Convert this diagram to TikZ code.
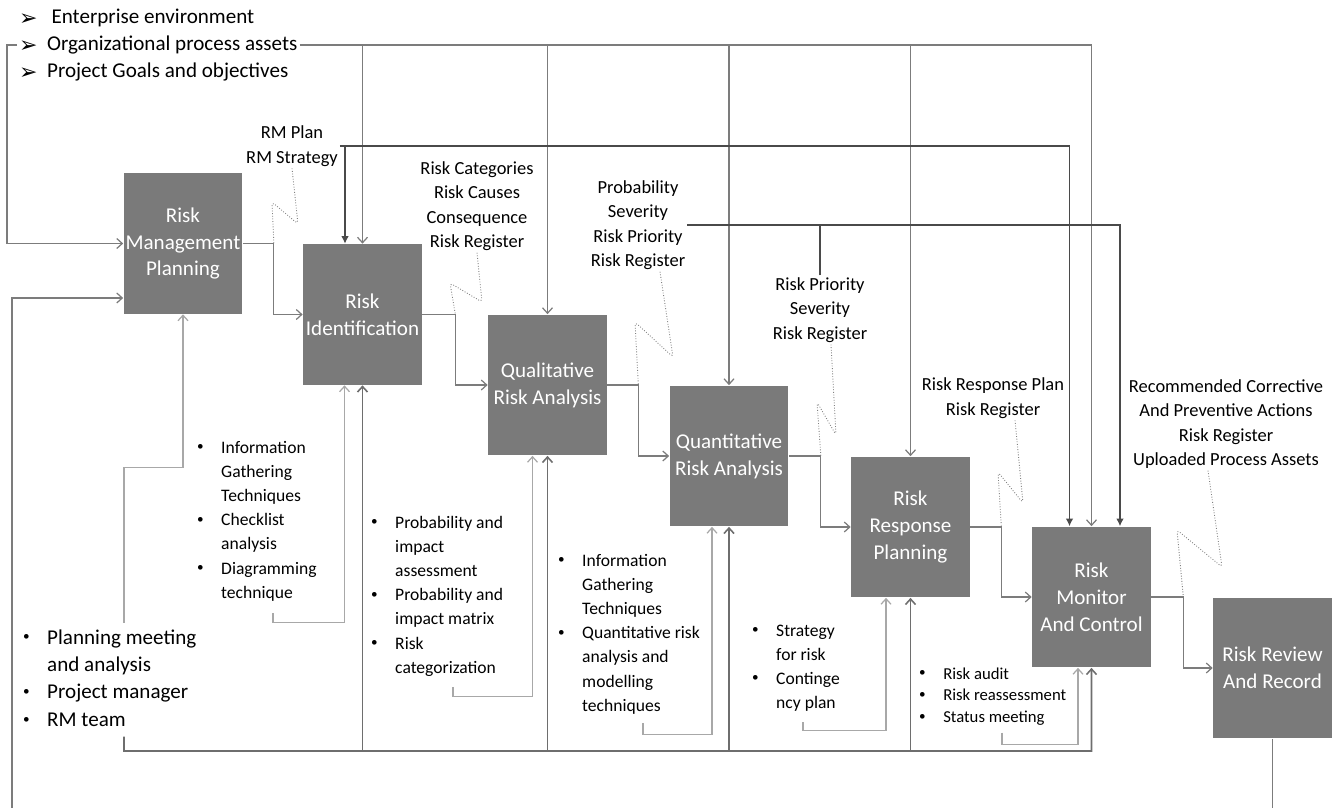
\documentclass[tikz,border=0pt]{standalone}
\usepackage{fontspec}
\setmainfont{Carlito}
\newfontfamily\symfont{DejaVu Sans}
\usetikzlibrary{arrows.meta}
\definecolor{boxgray}{HTML}{7A7A7A}
\definecolor{linegray}{HTML}{7C7C7C}
\definecolor{darkline}{HTML}{4A4A4A}
\definecolor{lightline}{HTML}{A8A8A8}
\newcommand\arrbul{\raisebox{-0.2ex}{\symfont\fontsize{12.5}{12.5}\selectfont ➢}}
\newcommand\dotbul{\raisebox{0.3ex}{\fontsize{7.5}{7.5}\selectfont\textbullet}}
\newcommand\blist[1]{\begin{tabular}[t]{@{}l@{\hspace{10pt}}l@{}}#1\end{tabular}}

\tikzset{
  proc/.style={rectangle, fill=boxgray, text=white, minimum width=2.38cm,
    minimum height=2.82cm, inner sep=0pt, align=center,
    font=\fontsize{12}{15.3}\selectfont},
  inlbl/.style={anchor=west, inner sep=1pt, font=\fontsize{12}{15.3}\selectfont},
  outlbl/.style={align=center, inner sep=1pt, font=\fontsize{10.5}{13.9}\selectfont},
  toollbl/.style={anchor=base west, inner sep=1pt, font=\fontsize{10}{13.8}\selectfont},
  flow/.style={draw=linegray, line width=0.7pt, -{Straight Barb[length=1.1mm,width=2mm]}},
  key/.style={draw=darkline, line width=0.7pt, -{Latex[length=1.5mm,width=1.5mm]}},
  tool/.style={draw=lightline, line width=0.7pt, -{Straight Barb[length=1.1mm,width=2mm]}},
  res/.style={draw=darkline!80, line width=0.9pt, -{Straight Barb[length=1.1mm,width=2mm]}},
  zig/.style={draw=gray, line width=0.5pt, densely dotted, rounded corners=2pt},
}

\begin{document}
\begin{tikzpicture}[x=0.02cm, y=-0.02cm]
\useasboundingbox (0,0) rectangle (1339,808);

% process boxes
\node[proc] (rmp) at (183,243.5) {Risk\\Management\\Planning};
\node[proc] (rid) at (362.5,314.5) {Risk\\Identification};
\node[proc] (qual) at (547.5,385) {Qualitative\\Risk Analysis};
\node[proc] (quant) at (729,456) {Quantitative\\Risk Analysis};
\node[proc] (resp) at (910.5,527) {Risk\\Response\\Planning};
\node[proc] (mon) at (1091.5,597) {Risk\\Monitor\\And Control};
\node[proc] (rev) at (1272.5,668) {Risk Review\\And Record};

% inputs
\node[inlbl] (env) at (17,18) {\arrbul\hspace{8pt}Enterprise environment};
\node[inlbl] (org) at (17,45) {\arrbul\hspace{5.5pt}Organizational process assets};
\node[inlbl] (goal) at (17,72) {\arrbul\hspace{5.5pt}Project Goals and objectives};

% outputs
\node[outlbl] (rmlbl) at (292,146) {RM Plan\\RM Strategy};
\node[outlbl] (catlbl) at (477,206) {Risk Categories\\Risk Causes\\Consequence\\Risk Register};
\node[outlbl] (problbl) at (638,225) {Probability\\Severity\\Risk Priority\\Risk Register};
\node[outlbl] (prilbl) at (820,310) {Risk Priority\\Severity\\Risk Register};
\node[outlbl] (resplbl) at (993,398) {Risk Response Plan\\Risk Register};
\node[outlbl] (reclbl) at (1226,424) {Recommended Corrective\\And Preventive Actions\\Risk Register\\Uploaded Process Assets};

% tools and techniques
\node[toollbl] (infolbl) at (195,453) {\blist{\dotbul & Information\\ & Gathering\\ & Techniques\\
  \dotbul & Checklist\\ & analysis\\ \dotbul & Diagramming\\ & technique}};
\node[toollbl] (pilbl) at (369,528) {\blist{\dotbul & Probability and\\ & impact\\ & assessment\\
  \dotbul & Probability and\\ & impact matrix\\ \dotbul & Risk\\ & categorization}};
\node[toollbl] (qtlbl) at (556,566) {\blist{\dotbul & Information\\ & Gathering\\ & Techniques\\
  \dotbul & Quantitative risk\\ & analysis and\\ & modelling\\ & techniques}};
\node[toollbl] (stratlbl) at (750,636) {\blist{\dotbul & Strategy\\ & for risk\\
  \dotbul & Continge\\ & ncy plan}};
\node[toollbl, font=\fontsize{9.5}{12.5}\selectfont] (auditlbl) at (917,679) {\blist{\dotbul & Risk audit\\
  \dotbul & Risk reassessment\\ \dotbul & Status meeting}};
\node[toollbl, font=\fontsize{12}{15.6}\selectfont] (planlbl) at (21,644) {\blist{\dotbul & Planning meeting\\
  & and analysis\\ \dotbul & Project manager\\ \dotbul & RM team}};

% main chain
\draw[flow] (rmp.east) -- ++(31,0) coordinate (k1) |- (rid.west);
\draw[flow] (rid.east) -- ++(33,0) coordinate (k2) |- (qual.west);
\draw[flow] (qual.east) -- ++(31,0) coordinate (k3) |- (quant.west);
\draw[flow] (quant.east) -- ++(32,0) coordinate (k4) |- (resp.west);
\draw[flow] (resp.east) -- ++(31,0) coordinate (k5) |- (mon.west);
\draw[flow] (mon.east) -- ++(32,0) coordinate (k6) |- (rev.west);

% inputs into the boxes
\draw[flow] (org.west) -- ++(-10,0) |- (rmp.west);
\draw[flow] (org.east) -| (mon.north);
\draw[flow] (org.east -| rid.north) -- (rid.north);
\draw[flow] (org.east -| qual.north) -- (qual.north);
\draw[flow] (org.east -| quant.north) -- (quant.north);
\draw[flow] (org.east -| resp.north) -- (resp.north);

\draw[key] (rmlbl.east) -| ([xshift=-0.44cm]mon.north);
\draw[key] ([xshift=-0.35cm]rid.north |- rmlbl.east) -- ([xshift=-0.35cm]rid.north);
\draw[key] (problbl.east) -| ([xshift=0.57cm]mon.north);
\draw[key,-] (prilbl.north) -- (prilbl.north |- problbl.east);

% feedback loop
\coordinate (loop) at (12,840);
\draw[flow] (rev.south) |- (loop) |- ([yshift=-1.09cm]rmp.west);

% output squiggles
\draw[zig] (rmlbl.south) -- (298,224) -- (272,202) -- (k1);
\draw[zig] (catlbl.south) -- (482,302) -- (450,283) -- (k2);
\draw[zig] ([xshift=0.44cm]problbl.south) -- (673,357) -- (635,322) -- (k3);
\draw[zig] ([xshift=0.22cm]prilbl.south) -- (836,435) -- (817,402) -- (k4);
\draw[zig] ([xshift=0.44cm]resplbl.south) -- (1023,503) -- (998,472) -- (k5);
\draw[zig] ([xshift=-0.36cm]reclbl.south) -- (1222,567) -- (1177,530) -- (k6);

% tools into the boxes
\draw[tool] ([shift={(78,5)}]infolbl.south west) -- ++(0,10) -| ([xshift=-0.36cm]rid.south);
\draw[tool] ([shift={(84,4)}]pilbl.south west) -- ++(0,10) -| ([xshift=-0.3cm]qual.south);
\draw[tool] ([shift={(87,2)}]qtlbl.south west) -- ++(0,12) -| ([xshift=-0.34cm]quant.south);
\draw[tool] ([shift={(53,4)}]stratlbl.south west) -- ++(0,8) -| ([xshift=-0.49cm]resp.south);
\draw[tool] ([shift={(85,1)}]auditlbl.south west) -- ++(0,12) -| ([xshift=-0.27cm]mon.south);
\draw[tool] ([xshift=2.06cm]planlbl.north west) -- ++(0,-155) -| (rmp.south);

% resources
\coordinate (base) at (124,751);
\draw[res] ([xshift=2.06cm]planlbl.south west) -- (base) -| (mon.south);
\draw[res] (base -| rid.south) -- (rid.south);
\draw[res] (base -| qual.south) -- (qual.south);
\draw[res] (base -| quant.south) -- (quant.south);
\draw[res] (base -| resp.south) -- (resp.south);
\end{tikzpicture}
\end{document}
